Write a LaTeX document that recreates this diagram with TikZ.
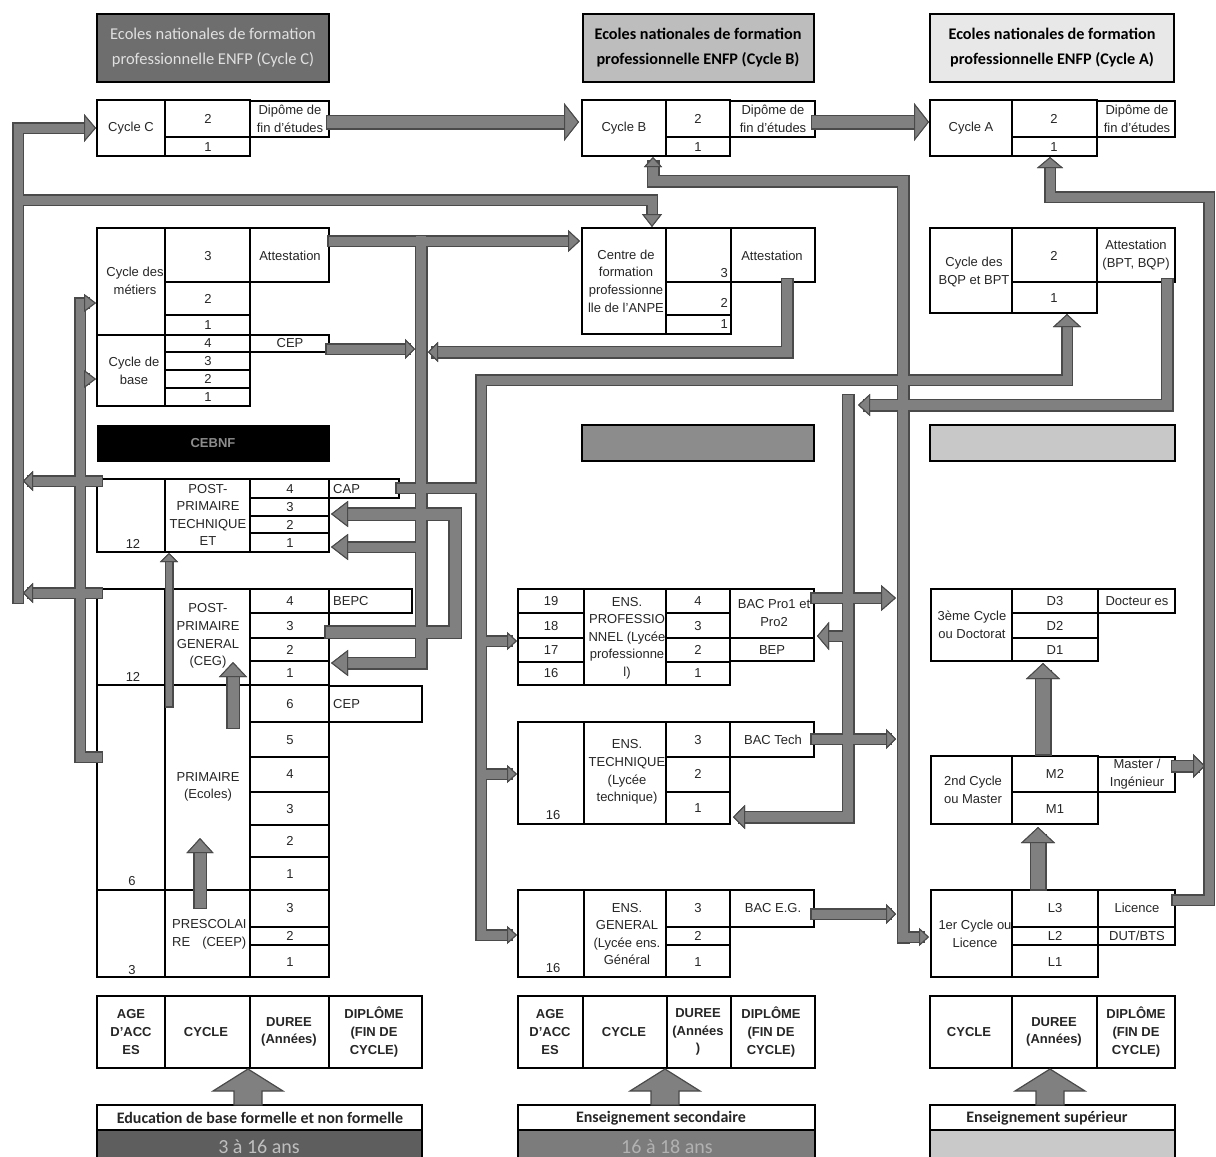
\documentclass[tikz,border=0pt]{standalone}
\usepackage{fontspec}
\setmainfont{Liberation Sans}
\newfontfamily\carl{Carlito}
\usetikzlibrary{arrows.meta}
\definecolor{pipec}{HTML}{808080}
\definecolor{pipee}{HTML}{4A4A4A}
\definecolor{txt}{HTML}{262626}
\definecolor{hdC}{HTML}{6E6E6E}
\definecolor{hdB}{HTML}{BDBDBD}
\definecolor{hdA}{HTML}{E8E8E8}
\definecolor{barM}{HTML}{8C8C8C}
\definecolor{barR}{HTML}{C8C8C8}
\definecolor{ageL}{HTML}{5E5E5E}
\definecolor{ageM}{HTML}{7C7C7C}
\definecolor{ageR}{HTML}{C9C9C9}
\tikzset{
  ob/.style={draw=black, line width=2.4pt},
  ib/.style={draw=black, line width=1.5pt},
  db/.style={draw=black, line width=1.1pt},
  tx/.style={inner sep=0pt, align=center, text=txt, font=\fontsize{13}{17.6}\selectfont},
  bt/.style={inner sep=0pt, align=center, text=txt, font=\bfseries\fontsize{13}{17.6}\selectfont},
  lt/.style={inner sep=0pt, align=left, anchor=west, text=txt, font=\fontsize{13}{17.6}\selectfont},
  hd/.style 2 args={-{Triangle[width=#1,length=#2,fill=pipec,color=pipee,line width=1pt]}},
  hdr/.style={inner sep=0pt, align=center, font=\carl\fontsize{16.5}{25}\selectfont},
  hdrb/.style={inner sep=0pt, align=center, font=\carl\bfseries\fontsize{16.2}{25}\selectfont},
  barlbl/.style={inner sep=0pt, font=\carl\bfseries\fontsize{16}{18}\selectfont, text=txt},
  agelbl/.style={inner sep=0pt, font=\carl\fontsize{20}{21}\selectfont, text=black!25},
  blockarrow/.style={fill=pipec, draw=pipee, line width=1.2pt, line join=miter},
}
\newcommand\blockup[1]{%
  \draw[blockarrow] (#1-14,1105) -- (#1-14,1091) -- (#1-35,1091) -- (#1,1069)
     -- (#1+35,1091) -- (#1+14,1091) -- (#1+14,1105) -- cycle;}
\newcommand\allpipes{%
  % left trunk to Cycle C and Centre ANPE
  \draw[pipe=9pt, hd={28pt}{12pt}] (18,598) -- (18,128) -- (96,128);
  \draw[pipe=9pt, hd={20pt}{13pt}] (18,200) -- (652,200) -- (652,227);
  \draw[pipe=9pt, hd={20pt}{10pt}] (97,481) -- (23,481);
  \draw[pipe=9pt, hd={20pt}{10pt}] (97,593) -- (23,593);
  % primaire to cycles des metiers / base
  \draw[pipe=9pt, hd={18pt}{12pt}] (97,757) -- (80,757) -- (80,303) -- (96,303);
  \draw[pipe=9pt, hd={18pt}{12pt}] (80,379) -- (96,379);
  % short upward arrows
  \draw[pipe=6pt, hd={18pt}{9pt}] (169,703) -- (169,553);
  \draw[pipe=11pt, hd={28pt}{15pt}] (233,722) -- (233,662);
  \draw[pipe=11pt, hd={27pt}{15pt}] (200,902) -- (200,838);
  % attestation, trunk x=421
  \draw[pipe=9pt, hd={22pt}{12pt}] (333,241) -- (580,241);
  \draw[pipe=10pt, hd={26pt}{17pt}] (421,241) -- (421,663) -- (331,663);
  \draw[pipe=9pt, hd={26pt}{17pt}] (421,547) -- (331,547);
  \draw[pipe=9pt, hd={20pt}{10pt}] (331,349) -- (415,349);
  \draw[pipe=10pt, hd={20pt}{10pt}] (787,284) -- (787,352) -- (428,352);
  \draw[pipe=11pt, hd={26pt}{17pt}] (331,632) -- (455,632) -- (455,514) -- (331,514);
  % CAP and trunk x=481
  \draw[pipe=9pt] (401,488) -- (481,488);
  \draw[pipe=9pt, hd={28pt}{13pt}] (481,935) -- (481,380) -- (1067,380) -- (1067,314);
  \draw[pipe=9pt, hd={18pt}{10pt}] (481,641) -- (517,641);
  \draw[pipe=9pt, hd={18pt}{10pt}] (481,774) -- (517,774);
  \draw[pipe=9pt, hd={18pt}{10pt}] (481,935) -- (517,935);
  % diplomas to next cycle
  \draw[pipe=12pt, hd={38pt}{15pt}] (333,122) -- (579,122);
  \draw[pipe=12pt, hd={38pt}{15pt}] (818,122) -- (929,122);
  % trunk x=903
  \draw[pipe=10pt, hd={18pt}{10pt}] (903,937) -- (903,181) -- (653,181) -- (653,157);
  \draw[pipe=9pt, hd={18pt}{10pt}] (903,937) -- (929,937);
  \draw[pipe=9pt, hd={26pt}{15pt}] (816,598) -- (896,598);
  \draw[pipe=9pt, hd={20pt}{10pt}] (816,739) -- (896,739);
  \draw[pipe=9pt, hd={20pt}{10pt}] (816,914) -- (896,914);
  % BQP attestation, trunk x=848
  \draw[pipe=10pt, hd={22pt}{12pt}] (1167,284) -- (1167,405) -- (858,405);
  \draw[pipe=10pt, hd={24pt}{12pt}] (848,400) -- (848,817) -- (733,817);
  \draw[pipe=9pt, hd={28pt}{12pt}] (848,636) -- (817,636);
  % licence / master
  \draw[pipe=9pt, hd={26pt}{11pt}] (1177,900) -- (1209,900) -- (1209,197) -- (1050,197) -- (1050,157);
  \draw[pipe=10pt, hd={24pt}{12pt}] (1177,766) -- (1205,766);
  \draw[pipe=14pt, hd={34pt}{16pt}] (1038,882) -- (1038,827);
  \draw[pipe=14pt, hd={34pt}{16pt}] (1043,747) -- (1043,663);
}
\begin{document}
\begin{tikzpicture}[x=1pt,y=-1pt]
\useasboundingbox (0,0) rectangle (1216,1157);
\fill[white] (0,0) rectangle (1216,1157);

% ---------- headers ----------
\draw[ob, fill=hdC] (97,14) rectangle (329,82);
\node[hdr, text=black!12] (hC) at (213,48) {Ecoles nationales de formation\\professionnelle ENFP (Cycle C)};
\draw[ob, fill=hdB] (583,14) rectangle (814,82);
\node[hdrb, text=black] (hB) at (698,48) {Ecoles nationales de formation\\professionnelle ENFP (Cycle B)};
\draw[ob, fill=hdA] (930,14) rectangle (1174,82);
\node[hdrb, text=black] (hA) at (1052,48) {Ecoles nationales de formation\\professionnelle ENFP (Cycle A)};

% ---------- Cycle C / B / A ----------
\draw[ob] (97,100) rectangle (250,156);
\draw[ib] (165,100) -- (165,156) (165,137) -- (250,137);
\draw[db] (250,101) rectangle (329,137);
\node[tx] (cC) at (131,128) {Cycle C};
\node[tx] (cC2) at (208,119) {2};
\node[tx] (cC1) at (208,147) {1};
\node[tx] (dC) at (290,119) {Dipôme de\\fin d'études};

\draw[ob] (582,100) rectangle (730,156);
\draw[ib] (666,100) -- (666,156) (666,137) -- (730,137);
\draw[db] (730,101) rectangle (815,137);
\node[tx] (cB) at (624,128) {Cycle B};
\node[tx] (cB2) at (698,119) {2};
\node[tx] (cB1) at (698,147) {1};
\node[tx] (dB) at (773,119) {Dipôme de\\fin d'études};

\draw[ob] (930,100) rectangle (1097,156);
\draw[ib] (1012,100) -- (1012,156) (1012,137) -- (1097,137);
\draw[db] (1097,101) rectangle (1175,137);
\node[tx] (cA) at (971,128) {Cycle A};
\node[tx] (cA2) at (1054,119) {2};
\node[tx] (cA1) at (1054,147) {1};
\node[tx] (dA) at (1137,119) {Dipôme de\\fin d'études};

% ---------- Cycle des metiers / base ----------
\draw[ob] (97,228) rectangle (250,406);
\draw[ib] (165,228) -- (165,406) (97,335) -- (250,335);
\draw[ib] (165,282) -- (250,282) (165,315) -- (250,315) (165,352) -- (250,352)
          (165,370) -- (250,370) (165,388) -- (250,388);
\draw[db] (250,228) rectangle (329,282);
\draw[db] (250,335) rectangle (329,352);
\node[tx] (met) at (135,281) {Cycle des\\métiers};
\node[tx] (bas) at (134,371) {Cycle de\\base};
\node[tx] (m3) at (208,256) {3};
\node[tx] (m2) at (208,299) {2};
\node[tx] (m1) at (208,325) {1};
\node[tx] (b4) at (208,343) {4};
\node[tx] (b3) at (208,361) {3};
\node[tx] (b2) at (208,379) {2};
\node[tx] (b1) at (208,397) {1};
\node[tx] (attM) at (290,256) {Attestation};
\node[tx] (cepB) at (290,343) {CEP};

% ---------- Centre ANPE ----------
\draw[ob] (582,228) rectangle (731,334);
\draw[ib] (666,228) -- (666,334) (666,282) -- (731,282) (666,315) -- (731,315);
\draw[db] (731,228) rectangle (815,282);
\node[tx] (anpe) at (626,281) {Centre de\\formation\\professionne\\lle de l'ANPE};
\node[tx, anchor=east] (a3) at (728,273) {3};
\node[tx, anchor=east] (a2) at (728,303) {2};
\node[tx, anchor=east] (a1) at (728,324) {1};
\node[tx] (attA) at (772,256) {Attestation};

% ---------- BQP / BPT ----------
\draw[ob] (930,228) rectangle (1097,313);
\draw[ib] (1012,228) -- (1012,313) (1012,282) -- (1097,282);
\draw[db] (1097,228) rectangle (1175,282);
\node[tx] (bqp) at (974,272) {Cycle des\\BQP et BPT};
\node[tx] (q2) at (1054,256) {2};
\node[tx] (q1) at (1054,298) {1};
\node[tx] (attQ) at (1136,255) {Attestation\\(BPT, BQP)};

% ---------- bars ----------
\draw[fill=black] (97,425) rectangle (329,461);
\node[inner sep=0pt, font=\bfseries\fontsize{13}{15}\selectfont, text=black!45] (cebnf) at (213,443) {CEBNF};
\draw[ob, fill=barM] (582,425) rectangle (814,461);
\draw[ob, fill=barR] (930,425) rectangle (1175,461);

% ---------- Post-primaire technique ----------
\draw[ob] (97,479) rectangle (329,552);
\draw[ib] (165,479) -- (165,552) (250,479) -- (250,552)
          (250,498) -- (329,498) (250,516) -- (329,516) (250,533) -- (329,533);
\draw[db] (329,479) rectangle (399,498);
\node[tx] (ppt) at (208,515) {POST-\\PRIMAIRE\\TECHNIQUE\\ET};
\node[tx] (t4) at (290,489) {4};
\node[tx] (t3) at (290,507) {3};
\node[tx] (t2) at (290,525) {2};
\node[tx] (t1) at (290,543) {1};
\node[tx] (age12a) at (133,544) {12};
\node[lt] (cap) at (333,489) {CAP};

% ---------- Post-primaire general ----------
\draw[ob] (97,589) rectangle (329,685);
\draw[ib] (165,589) -- (165,685) (250,589) -- (250,685)
          (250,613) -- (329,613) (250,638) -- (329,638) (250,661) -- (329,661);
\draw[db] (329,589) rectangle (412,613);
\node[tx] (ppg) at (208,636) {POST-\\PRIMAIRE\\GENERAL\\(CEG)};
\node[tx] (g4) at (290,601) {4};
\node[tx] (g3) at (290,626) {3};
\node[tx] (g2) at (290,650) {2};
\node[tx] (g1) at (290,673) {1};
\node[tx] (age12b) at (133,677) {12};
\node[lt] (bepc) at (333,601) {BEPC};

% ---------- Primaire ----------
\draw[ob] (97,685) rectangle (329,890);
\draw[ib] (165,685) -- (165,890) (250,685) -- (250,890)
          (250,722) -- (329,722) (250,757) -- (329,757) (250,792) -- (329,792)
          (250,825) -- (329,825) (250,857) -- (329,857);
\draw[db] (329,686) rectangle (422,722);
\node[tx] (prim) at (208,787) {PRIMAIRE\\(Ecoles)};
\node[tx] (p6) at (290,704) {6};
\node[tx] (p5) at (290,740) {5};
\node[tx] (p4) at (290,774) {4};
\node[tx] (p3) at (290,809) {3};
\node[tx] (p2) at (290,841) {2};
\node[tx] (p1) at (290,874) {1};
\node[tx] (age6) at (132,881) {6};
\node[lt] (cepP) at (333,704) {CEP};

% ---------- Prescolaire ----------
\draw[ob] (97,890) rectangle (329,977);
\draw[ib] (165,890) -- (165,977) (250,890) -- (250,977)
          (250,927) -- (329,927) (250,945) -- (329,945);
\begin{scope}
  \clip (166,891) rectangle (249.5,976);
  \node[lt, align=left] (presc) at (172,934) {PRESCOLAI\\RE\hspace{12pt}(CEEP)};
\end{scope}
\node[tx] (s3) at (290,908) {3};
\node[tx] (s2) at (290,936) {2};
\node[tx] (s1) at (290,962) {1};
\node[tx] (age3) at (132,970) {3};

% ---------- Secondaire ----------
\draw[ob] (518,589) rectangle (730,685);
\draw[ib] (584,589) -- (584,685) (666,589) -- (666,685)
          (518,613) -- (584,613) (518,638) -- (584,638) (518,662) -- (584,662)
          (666,613) -- (730,613) (666,638) -- (730,638) (666,662) -- (730,662);
\draw[db] (730,589) rectangle (814,638);
\draw[db] (730,638) rectangle (814,661);
\node[tx] (a19) at (551,601) {19};
\node[tx] (a18) at (551,626) {18};
\node[tx] (a17) at (551,650) {17};
\node[tx] (a16) at (551,673) {16};
\node[tx] (epro) at (627,638) {ENS.\\PROFESSIO\\NNEL (Lycée\\professionne\\l)};
\node[tx] (r4) at (698,601) {4};
\node[tx] (r3) at (698,626) {3};
\node[tx] (r2) at (698,650) {2};
\node[tx] (r1) at (698,673) {1};
\node[tx] (bacpro) at (774,613) {BAC Pro1 et\\Pro2};
\node[tx] (bep) at (772,650) {BEP};

\draw[ob] (518,722) rectangle (730,824);
\draw[ib] (584,722) -- (584,824) (666,722) -- (666,824)
          (666,757) -- (730,757) (666,792) -- (730,792);
\draw[db] (730,722) rectangle (814,757);
\node[tx] (etech) at (627,772) {ENS.\\TECHNIQUE\\(Lycée\\technique)};
\node[tx] (e3) at (698,740) {3};
\node[tx] (e2) at (698,774) {2};
\node[tx] (e1) at (698,808) {1};
\node[tx] (a16t) at (553,815) {16};
\node[tx] (bact) at (773,740) {BAC Tech};

\draw[ob] (518,890) rectangle (730,977);
\draw[ib] (584,890) -- (584,977) (666,890) -- (666,977)
          (666,927) -- (730,927) (666,945) -- (730,945);
\draw[db] (730,890) rectangle (814,927);
\node[tx] (egen) at (627,934) {ENS.\\GENERAL\\(Lycée ens.\\Général};
\node[tx] (n3) at (698,908) {3};
\node[tx] (n2) at (698,936) {2};
\node[tx] (n1) at (698,962) {1};
\node[tx] (a16g) at (553,968) {16};
\node[tx] (baceg) at (773,908) {BAC E.G.};

% ---------- Superieur ----------
\draw[ob] (931,589) rectangle (1098,661);
\draw[ib] (1012,589) -- (1012,661) (1012,613) -- (1098,613) (1012,638) -- (1098,638);
\draw[db] (1098,589) rectangle (1175,613);
\node[tx] (doc) at (972,625) {3ème Cycle\\ou Doctorat};
\node[tx] (d3) at (1055,601) {D3};
\node[tx] (d2) at (1055,626) {D2};
\node[tx] (d1) at (1055,650) {D1};
\node[tx] (dres) at (1137,601) {Docteur es};

\draw[ob] (931,756) rectangle (1098,824);
\draw[ib] (1012,756) -- (1012,824) (1012,792) -- (1098,792);
\draw[db] (1098,757) rectangle (1175,792);
\node[tx] (mas) at (973,790) {2nd Cycle\\ou Master};
\node[tx] (mm2) at (1055,774) {M2};
\node[tx] (mm1) at (1055,809) {M1};
\node[tx] (masd) at (1137,774) {Master /\\Ingénieur};

\draw[ob] (931,890) rectangle (1098,977);
\draw[ib] (1012,890) -- (1012,977) (1012,927) -- (1098,927) (1012,945) -- (1098,945);
\draw[db] (1098,890) rectangle (1175,927);
\draw[db] (1098,927) rectangle (1175,945);
\node[tx] (lic) at (975,934) {1er Cycle ou\\Licence};
\node[tx] (l3) at (1055,908) {L3};
\node[tx] (l2) at (1055,936) {L2};
\node[tx] (l1) at (1055,962) {L1};
\node[tx] (licd) at (1137,908) {Licence};
\node[tx] (dut) at (1137,936) {DUT/BTS};

% ---------- legend tables ----------
\draw[ob] (97,996) rectangle (422,1068);
\draw[ib] (165,996) -- (165,1068) (250,996) -- (250,1068) (329,996) -- (329,1068);
\node[bt] (kA1) at (131,1032) {AGE\\D'ACC\\ES};
\node[bt] (kC1) at (206,1032) {CYCLE};
\node[bt] (kD1) at (289,1032) {DUREE\\(Années)};
\node[bt] (kP1) at (374,1032) {DIPLÔME\\(FIN DE\\CYCLE)};

\draw[ob] (518,996) rectangle (815,1068);
\draw[ib] (583,996) -- (583,1068) (667,996) -- (667,1068) (731,996) -- (731,1068);
\node[bt] (kA2) at (550,1032) {AGE\\D'ACC\\ES};
\node[bt] (kC2) at (624,1032) {CYCLE};
\node[bt] (kD2) at (698,1032) {DUREE\\(Années\\)};
\node[bt] (kP2) at (771,1032) {DIPLÔME\\(FIN DE\\CYCLE)};

\draw[ob] (930,996) rectangle (1175,1068);
\draw[ib] (1012,996) -- (1012,1068) (1097,996) -- (1097,1068);
\node[bt] (kC3) at (969,1032) {CYCLE};
\node[bt] (kD3) at (1054,1032) {DUREE\\(Années)};
\node[bt] (kP3) at (1136,1032) {DIPLÔME\\(FIN DE\\CYCLE)};

% ---------- bottom bars ----------
\draw[ob, fill=white] (97,1105) rectangle (422,1130);
\draw[draw=black, line width=1.5pt, fill=ageL] (97,1130) rectangle (422,1162);
\node[barlbl] (edb) at (260,1118) {Education de base formelle et non formelle};
\node[agelbl] (ageb) at (259,1147) {3 à 16 ans};

\draw[ob, fill=white] (518,1105) rectangle (815,1130);
\draw[draw=black, line width=1.5pt, fill=ageM] (518,1130) rectangle (815,1162);
\node[barlbl] (ens) at (661,1118) {Enseignement secondaire};
\node[agelbl, text=black!30] (ages) at (667,1147) {16 à 18 ans};

\draw[ob, fill=white] (930,1105) rectangle (1175,1130);
\draw[draw=black, line width=1.5pt, fill=ageR] (930,1130) rectangle (1175,1162);
\node[barlbl] (esup) at (1047,1118) {Enseignement supérieur};

% ---------- block arrows from bars to legend tables ----------
\blockup{248}
\blockup{665}
\blockup{1050}

% ---------- pipes: outline pass, then fill pass ----------
\begin{scope}[pipe/.style={draw=pipee, line width=#1+3pt, line cap=rect}]
  \allpipes
\end{scope}
\begin{scope}[pipe/.style={draw=pipec, line width=#1, line cap=rect}]
  \allpipes
\end{scope}
\end{tikzpicture}
\end{document}
